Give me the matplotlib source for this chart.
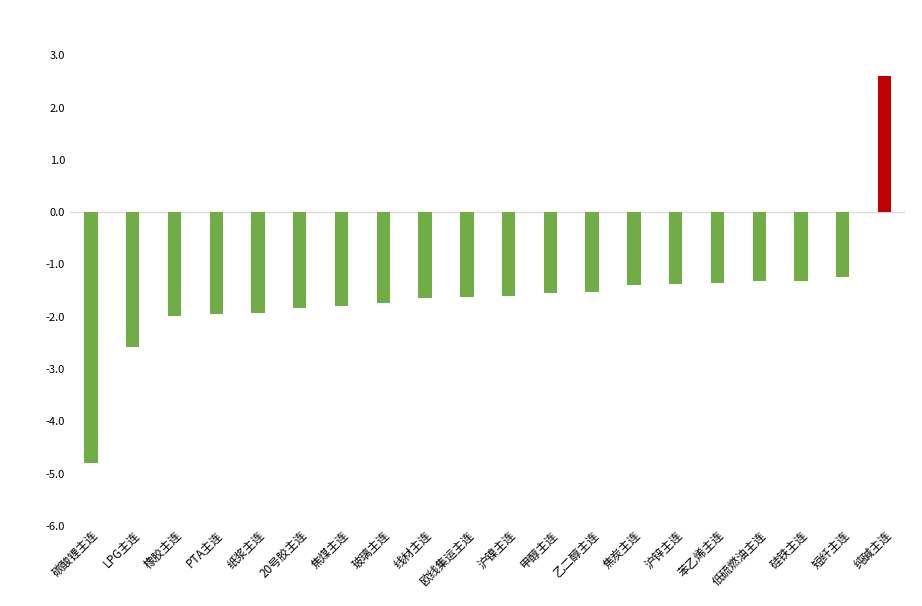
import matplotlib.pyplot as plt

plt.rcParams['font.family'] = ['Noto Sans CJK SC', 'DejaVu Sans']

categories = ['碳酸锂主连', 'LPG主连', '橡胶主连', 'PTA主连', '纸浆主连', '20号胶主连',
              '焦煤主连', '玻璃主连', '线材主连', '欧线集运主连', '沪镍主连', '甲醇主连',
              '乙二醇主连', '焦炭主连', '沪锌主连', '苯乙烯主连', '低硫燃油主连', '硅铁主连',
              '短纤主连', '纯碱主连']
values = [-4.80, -2.58, -1.99, -1.95, -1.93, -1.84, -1.80, -1.74, -1.64, -1.63,
          -1.61, -1.55, -1.53, -1.40, -1.38, -1.36, -1.32, -1.32, -1.24, 2.60]

colors = ['#c00000' if v > 0 else '#70ad47' for v in values]

fig = plt.figure(figsize=(9.22, 6.06), dpi=100)
ax = fig.add_axes([0.076, 0.132, 0.906, 0.82])
x = range(len(categories))
ax.bar(x, values, width=0.32, color=colors, zorder=2)
ax.axhline(0, color='#d9d9d9', linewidth=1, zorder=1)

ax.set_ylim(-6, 3.5)
ax.set_yticks([-6, -5, -4, -3, -2, -1, 0, 1, 2, 3])
ax.set_yticklabels([f'{t:.1f}' for t in [-6, -5, -4, -3, -2, -1, 0, 1, 2, 3]], fontsize=8)
ax.set_xlim(-0.5, len(categories) - 0.5)
ax.set_xticks(list(x))
ax.set_xticklabels(categories, rotation=45, ha='right', rotation_mode='anchor', fontsize=8.5)
ax.tick_params(length=0)
ax.tick_params(axis='x', pad=2)
for s in ax.spines.values():
    s.set_visible(False)

fig.savefig('out.png', dpi=100)
